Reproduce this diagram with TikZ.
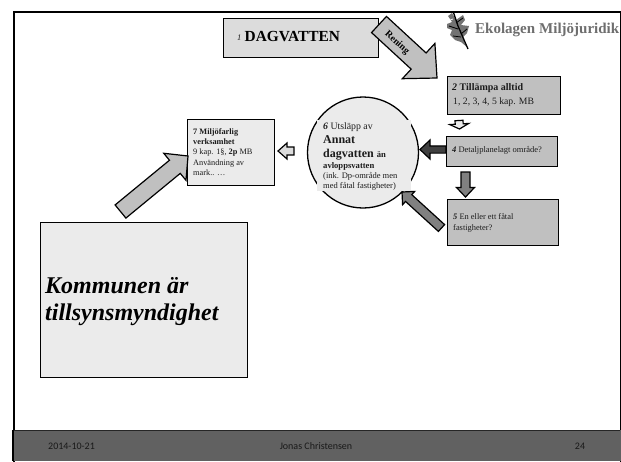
\documentclass[tikz,border=0pt]{standalone}
\usepackage{fontspec}
\setmainfont{Liberation Serif}
\newfontfamily\footfont{Carlito}
\usetikzlibrary{calc}
\definecolor{fillA}{HTML}{DCDCDC}
\definecolor{fillB}{HTML}{C0C0C0}
\definecolor{fillC}{HTML}{EBEBEB}
\definecolor{fillD}{HTML}{808080}
\definecolor{fillE}{HTML}{404040}
\definecolor{foot}{HTML}{616161}
\definecolor{ink}{HTML}{1C1C1C}
\definecolor{logo}{HTML}{6E6E6E}
\newcommand{\blockarrow}[6][fillB]{%
  \coordinate (hb) at ($(#3)!#6pt!(#2)$);
  \draw[blk,fill=#1] ($(#2)!#4pt!90:(#3)$) -- ($(hb)!#4pt!90:(#3)$) -- ($(hb)!#5pt!90:(#3)$) -- (#3)
    -- ($(hb)!#5pt!-90:(#3)$) -- ($(hb)!#4pt!-90:(#3)$) -- ($(#2)!#4pt!-90:(#3)$) -- cycle;}
\newcommand{\fs}[1]{\fontsize{#1}{#1}\selectfont}
\tikzset{
  x=1pt,y=-1pt,
  blk/.style={draw=black,line width=1.2pt,line join=miter},
  boxnode/.style={draw=black,line width=1.3pt,inner sep=0pt,anchor=north west},
  line/.style={anchor=base west,inner sep=0pt,text=ink},
  footer/.style={inner sep=0pt,text=black!90,font=\footfont\fs{10}},
}
\begin{document}
\begin{tikzpicture}
\useasboundingbox (0,0) rectangle (621,461);
% frame and footer
\node[draw=black,line width=2pt,inner sep=0pt,anchor=north west,minimum width=607pt,minimum height=451pt] (frame) at (12.5,10.5) {};
\fill[foot] (12,430) rectangle (621,461);
\draw[black!85,line width=1.1pt] (12,430.3) -- (620,430.3);
\draw[black,line width=2pt] (12.5,430) -- (12.5,461);
\node[footer,anchor=west] (fdate) at (48,446) {2014-10-21};
\node[footer] (fname) at (316,446) {Jonas Christensen};
\node[footer] (fnum) at (580,446) {24};
% logo
\begin{scope}
\clip (440,11) rectangle (619,60);
\node[anchor=base west,inner sep=0pt,text=logo,font=\bfseries\fs{15}] (logotext) at (475,33) {Ekolagen\hspace{4pt}Miljöjuridik};
\fill[black!55] (452,13) -- (456,20) -- (463,15) -- (465,20) -- (461,25) -- (469,26) -- (467,33) -- (463,37) -- (465,44) -- (468,48)
  -- (461,42) -- (455,40) -- (450,35) -- (452,30) -- (447,28) -- (447,24) -- (452,22) -- (448,16) -- cycle;
\draw[black,line width=1.3pt] (453,11) -- (458,26) -- (468,49);
\draw[black,line width=.8pt] (456,23) -- (463,18) (458,29) -- (449,26) (461,34) -- (467,29) (461,37) -- (453,36);
\draw[white,line width=.7pt] (448,21) -- (453,19) (459,13) -- (457,17) (446,32) -- (450,31);
\end{scope}
% boxes
\node[boxnode,fill=fillA,minimum width=155pt,minimum height=39pt] (b1) at (223,17.5) {};
\node[boxnode,fill=fillB,minimum width=113pt,minimum height=38pt] (b2) at (447,76) {};
\node[boxnode,fill=fillB,minimum width=111pt,minimum height=30pt] (b4) at (446,136) {};
\node[boxnode,fill=fillB,minimum width=111pt,minimum height=46pt] (b5) at (447,199) {};
\node[boxnode,fill=fillC,minimum width=87pt,minimum height=66pt] (b7) at (187,118.5) {};
\node[boxnode,fill=fillC,minimum width=207pt,minimum height=155pt] (kom) at (39.5,222) {};
% circle with its text panel
\node[circle,draw=black,line width=1.3pt,fill=fillC,minimum size=111pt,inner sep=0pt] (c6) at (363,152.5) {};
\fill[fillC] (317,120) rectangle (411,191);
% connectors
\coordinate (r0) at (379,24.5);
\coordinate (r1) at (437,78);
\blockarrow{r0}{r1}{11}{24}{25}
\coordinate (a0) at (459,120.5);
\coordinate (a1) at (459.5,129);
\blockarrow[fillC]{a0}{a1}{4}{9.5}{5}
\coordinate (d0) at (446,149.5);
\coordinate (d1) at (420,149.5);
\blockarrow[fillE]{d0}{d1}{3.6}{9.5}{10}
\coordinate (e0) at (465.5,172);
\coordinate (e1) at (465.5,197);
\blockarrow[fillD]{e0}{e1}{4.5}{9}{9.5}
\coordinate (f0) at (441.5,228);
\coordinate (f1) at (402,192);
\blockarrow[fillD]{f0}{f1}{4.6}{9}{9}
\coordinate (g0) at (294,151);
\coordinate (g1) at (278,151);
\blockarrow[fillA]{g0}{g1}{4}{8}{9}
\coordinate (h0) at (120.5,211.5);
\coordinate (h1) at (188,156);
\blockarrow{h0}{h1}{8.5}{17.5}{17}
% texts
\node[line,font=\itshape\fs{8.5}] (t1n) at (237,40) {1};
\node[line,font=\bfseries\fs{15.4},text=black] (t1) at (244.5,41) {DAGVATTEN};
\node[font=\bfseries\fs{9.6},rotate=-42,inner sep=0pt,text=black] (tr) at (397,43) {Rening};
\node[line,font=\fs{10}] (t2a) at (452,90) {\textbf{\textit{2} Tillämpa alltid}};
\node[line,font=\fs{9.7}] (t2b) at (453,104) {1, 2, 3, 4, 5 kap. MB};
\node[line,font=\fs{8.5}] (t4) at (452,152) {\textbf{\textit{4}} Detaljplanelagt område?};
\node[line,font=\fs{8.4}] (t5a) at (453,219) {\textbf{\textit{5}} En eller ett fåtal};
\node[line,font=\fs{8.4}] (t5b) at (453,230) {fastigheter?};
\node[line,font=\fs{8.3}] (t7a) at (193,134) {\textbf{7 Miljöfarlig}};
\node[line,font=\fs{8.3}] (t7b) at (193,144) {\textbf{verksamhet}};
\node[line,font=\fs{8.3}] (t7c) at (193,154.5) {9 kap. 1§, \textbf{2p} MB};
\node[line,font=\fs{8.3}] (t7d) at (193,165) {Användning av};
\node[line,font=\fs{8.3}] (t7e) at (193,175) {mark.. …};
\node[line,font=\fs{9.8}] (t6a) at (323,129) {\textbf{\textit{6}} Utsläpp av};
\node[line,font=\bfseries\fs{12}] (t6b) at (323,143) {Annat};
\node[line,font=\bfseries\fs{12}] (t6c) at (323,157) {dagvatten {\fs{8.6}än}};
\node[line,font=\bfseries\fs{8.6}] (t6d) at (323,168) {avloppsvatten};
\node[line,font=\fs{8.5}] (t6e) at (323,178) {(ink. Dp-område men};
\node[line,font=\fs{8.5}] (t6f) at (323,188) {med fåtal fastigheter)};
\node[line,font=\bfseries\itshape\fs{24},text=black] (k1) at (45,293) {Kommunen är};
\node[line,font=\bfseries\itshape\fs{24},text=black] (k2) at (45,320) {tillsynsmyndighet};
\end{tikzpicture}
\end{document}
